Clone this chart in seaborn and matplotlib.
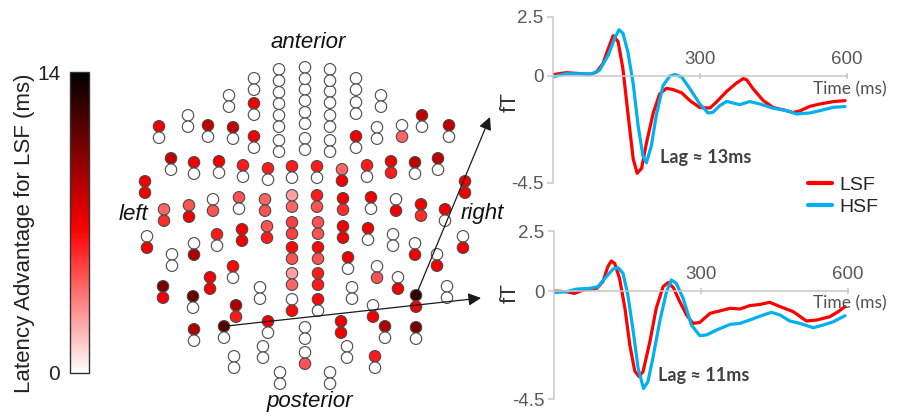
import numpy as np
import pandas as pd
import matplotlib
matplotlib.use("Agg")
import matplotlib.pyplot as plt
import seaborn as sns
from matplotlib.colors import LinearSegmentedColormap, Normalize
from matplotlib.cm import ScalarMappable
from matplotlib.lines import Line2D

# ---------------- data ----------------
# sensor-pair positions (layout coordinates) and latency advantage (ms) of the two gradiometers
sensor_x = [254, 229, 254, 279, 279, 279, 279, 305, 305, 305, 305, 330, 330, 330, 330, 356, 356, 356, 381, 377, 402, 422, 449, 254, 233, 208, 188, 159,
            171, 194, 219, 243, 268, 292, 317, 342, 367, 391, 415, 438, 145, 465,
            164, 189, 213, 239, 265, 292, 317, 343, 371, 396, 421, 445,
            147, 172, 194, 217, 242, 267, 292, 318, 343, 368, 393, 415, 437, 463,
            292, 318, 233, 348, 377, 260, 210, 163, 193, 292, 318, 352, 398, 416, 447, 236, 373, 292, 318,
            194, 224, 268, 305, 341, 385, 416, 263, 347, 234, 305, 375, 280, 330]
sensor_y = [84, 101, 109, 75, 98, 121, 146, 73, 95, 118, 144, 75, 97, 121, 146, 84, 108, 142, 101, 133, 131, 121, 131, 142, 133, 131, 121, 132,
            164, 168, 167, 171, 174, 172, 172, 175, 171, 167, 168, 164, 187, 187,
            215, 211, 205, 203, 205, 201, 201, 204, 203, 205, 210, 215,
            242, 260, 249, 240, 235, 232, 228, 228, 232, 234, 240, 249, 260, 242,
            253, 253, 272, 263, 272, 293, 283, 292, 302, 279, 279, 293, 283, 301, 292, 311, 311, 305, 305,
            335, 332, 327, 333, 327, 332, 333, 352, 352, 362, 358, 362, 378, 378]
latency_upper = [0, 0, 7, 0, 0, 0, 0, 0, 0, 0, 0, 0, 0, 0, 0, 0, 0, 7, 0, 0, 0, 8.5, 8.5, 7, 8.5, 8.5, 0, 7,
                 8.5, 7, 7, 6, 6, 6, 6, 4, 6, 7, 8.5, 8.5, 7, 7,
                 4, 4.5, 0, 4.5, 4, 2.5, 6, 7, 7, 0, 7, 7,
                 0, 0, 0, 6, 7, 4.5, 5, 4.5, 7, 7, 0, 0, 0, 0,
                 6.5, 6.5, 6.5, 7, 0, 0, 7, 10.5, 11, 2.5, 6, 0, 0, 12.5, 0, 9, 0, 0, 6.5,
                 9, 11.5, 7, 0, 7, 9, 10.5, 0, 0, 0, 0, 6, 0, 0]
latency_lower = [0, 0, 0, 0, 0, 0, 0, 0, 0, 0, 0, 0, 0, 0, 0, 0, 0, 0, 0, 0, 4, 0, 0, 0, 0, 0, 0, 0,
                 0, 0, 0, 0, 0, 0, 0, 7, 0, 6, 0, 0, 7, 7,
                 5.5, 7, 4.5, 0, 4.5, 4, 4.5, 5.5, 0, 7, 5.5, 0,
                 7, 0, 9, 0, 7, 6, 5, 4.5, 7, 0, 0, 7, 7, 7,
                 4.5, 4.5, 0, 0, 4.5, 0, 7, 7, 0, 4, 6, 0, 7, 7, 0, 6, 7, 6.5, 0,
                 0, 0, 0, 0, 7, 0, 0, 0, 0, 0, 4.5, 0, 0, 0]

# time courses (ms, fT)
t_lsf_1 = [0, 27, 55, 75, 89, 102, 113, 123, 133, 143, 153, 164, 172, 181, 191, 205, 218, 232, 245, 263,
           280, 300, 321, 334, 355, 375, 389, 396, 409, 430, 450, 471, 491, 505, 525, 546, 573, 597]
v_lsf_1 = [0.06, 0.14, 0.10, 0.06, 0.17, 0.52, 1.16, 1.70, 1.45, 0.30, -1.55, -3.50, -4.10, -3.90, -2.83, -1.55, -0.76, -0.52, -0.57, -0.71,
           -1.04, -1.33, -1.35, -1.10, -0.65, -0.30, -0.11, -0.16, -0.54, -1.04, -1.33, -1.43, -1.54, -1.47, -1.28, -1.18, -1.08, -1.04]
t_hsf_1 = [0, 27, 55, 82, 95, 113, 126, 135, 143, 153, 164, 174, 184, 191, 201, 211, 225, 239, 249, 263,
           280, 300, 317, 327, 341, 355, 368, 382, 402, 423, 450, 477, 498, 525, 546, 573, 597]
v_hsf_1 = [-0.04, 0.10, 0.09, 0.10, 0.24, 0.88, 1.59, 1.95, 1.80, 1.02, -0.33, -2.10, -3.38, -3.66, -2.95, -1.68, -0.40, 0.0, 0.06, -0.04,
           -0.54, -1.18, -1.56, -1.53, -1.25, -1.07, -1.14, -1.21, -1.08, -1.18, -1.36, -1.46, -1.60, -1.56, -1.46, -1.32, -1.29]
t_lsf_2 = [0, 25, 42, 59, 87, 100, 110, 117, 124, 134, 145, 155, 165, 174, 182, 196, 209, 223, 233, 244,
           257, 271, 284, 298, 319, 339, 360, 380, 400, 421, 441, 462, 489, 516, 537, 564, 581, 595]
v_lsf_2 = [0, -0.03, -0.10, 0.04, 0.11, 0.39, 1.01, 1.25, 1.15, 0.53, -0.72, -2.25, -3.33, -3.57, -3.36, -2.11, -0.72, 0.18, 0.35, 0.14,
           -0.44, -1.0, -1.35, -1.31, -0.93, -0.83, -0.72, -0.75, -0.61, -0.56, -0.47, -0.65, -0.86, -1.25, -1.21, -1.07, -0.86, -0.65]
t_hsf_2 = [0, 25, 46, 73, 90, 107, 121, 131, 141, 151, 162, 172, 183, 192, 202, 216, 230, 240, 250, 264,
           281, 298, 312, 332, 360, 380, 400, 428, 445, 462, 482, 503, 530, 550, 571, 595]
v_hsf_2 = [-0.06, -0.03, 0.08, 0.11, 0.18, 0.60, 0.92, 0.97, 0.74, -0.17, -1.69, -3.22, -4.06, -3.78, -2.81, -1.28, -0.03, 0.46, 0.32, -0.31,
           -1.42, -1.86, -1.83, -1.63, -1.39, -1.35, -1.21, -1.0, -0.89, -1.0, -1.25, -1.35, -1.53, -1.42, -1.28, -1.03]

bands = ["LSF", "HSF"]
lag_labels = ["Lag \u2248 13ms", "Lag \u2248 11ms"]
y_ticks = [-4.5, 0, 2.5]
y_ticklabels = ["-4.5", "0", "2.5"]
x_ticks = [300, 600]
cbar_range = (0, 14)

# ---------------- style ----------------
sns.set_theme(style="white")
plt.rcParams["font.family"] = ["Liberation Sans", "DejaVu Sans"]

RED = "#ff0000"
BLUE = "#00b0f0"
GREY_AX = "#c8c8c8"
GREY_TXT = "#595959"
PAIR_OFFSET = 5.7

W, H = 898, 416
fig = plt.figure(figsize=(W / 100, H / 100), dpi=100)

cmap = LinearSegmentedColormap.from_list("wrk", [(0, "white"), (0.475, "#ff0000"), (1, "black")])
norm = Normalize(*cbar_range)

# ---------------- sensor layout ----------------
ax_s = fig.add_axes([100 / W, 0, 410 / W, 1])
ax_s.set_xlim(100, 510)
ax_s.set_ylim(H, 0)
ax_s.set_axis_off()

sx = np.array(sensor_x, float)
sy = np.array(sensor_y, float)
sensors = pd.DataFrame({
    "x": np.concatenate([sx, sx]),
    "y": np.concatenate([sy - PAIR_OFFSET, sy + PAIR_OFFSET]),
    "latency": np.concatenate([latency_upper, latency_lower]),
})
sns.scatterplot(data=sensors, x="x", y="y", hue="latency", palette=cmap, hue_norm=norm,
                s=68, edgecolor="#4a4a4a", linewidth=0.8, legend=False, ax=ax_s, zorder=3)
ax_s.set_xlabel("")
ax_s.set_ylabel("")

for txt, x, y in [("anterior", 308, 42), ("posterior", 310, 402), ("left", 133, 215), ("right", 482, 213)]:
    ax_s.text(x, y, txt, fontsize=16, style="italic", ha="center", va="center", color="#111111")

arrow_kw = dict(arrowstyle="-|>", color="#1a1a1a", lw=0.9, mutation_scale=19, shrinkA=0, shrinkB=0)
i1, i2 = 88, 81
ax_s.annotate("", xy=(481, 298), xytext=(sx[i1], sy[i1] - PAIR_OFFSET), arrowprops=arrow_kw, zorder=4)
ax_s.annotate("", xy=(490, 117), xytext=(sx[i2], sy[i2] - PAIR_OFFSET), arrowprops=arrow_kw, zorder=4)

# ---------------- colorbar ----------------
cax = fig.add_axes([70 / W, 1 - 373 / H, 19 / W, 301 / H])
cb = fig.colorbar(ScalarMappable(norm=norm, cmap=cmap), cax=cax)
cb.outline.set_edgecolor("#333333")
cb.outline.set_linewidth(1.0)
cax.yaxis.set_ticks_position("left")
cax.set_yticks([0, 14])
cax.set_yticklabels(["0", "14"])
cax.set_yticks(np.arange(1, 14), minor=True)
cax.tick_params(axis="y", which="major", length=0, pad=7, labelsize=15, labelcolor="#222222")
cax.tick_params(axis="y", which="minor", left=False, right=True, direction="in", length=4, width=0.8, color="#333333")
fig.text(25 / W, 1 - 233 / H, "Latency Advantage for LSF (ms)", rotation=90, ha="center", va="center",
         fontsize=16, color="#222222")

# ---------------- time courses ----------------
def panel(rect, t_l, v_l, t_h, v_h, lag, lag_xy, time_xy, ylab_xy):
    ax = fig.add_axes(rect)
    df = pd.concat([
        pd.DataFrame({"time": t_l, "fT": v_l, "band": "LSF"}),
        pd.DataFrame({"time": t_h, "fT": v_h, "band": "HSF"}),
    ])
    sns.lineplot(data=df, x="time", y="fT", hue="band", hue_order=bands,
                 palette={"LSF": RED, "HSF": BLUE}, linewidth=2.3, estimator=None, sort=False,
                 legend=False, ax=ax, solid_joinstyle="round", solid_capstyle="round")
    ax.set_xlim(0, 600)
    ax.set_ylim(-4.5, 2.5)
    for side in ["right", "bottom"]:
        ax.spines[side].set_visible(False)
    ax.spines["top"].set_position(("data", 0))
    ax.spines["top"].set_bounds(0, 600)
    for side in ["top", "left"]:
        ax.spines[side].set_color(GREY_AX)
        ax.spines[side].set_linewidth(1.1)
    ax.xaxis.set_ticks_position("top")
    ax.set_xticks(x_ticks)
    ax.set_yticks(y_ticks)
    ax.set_yticklabels(y_ticklabels)
    ax.tick_params(axis="x", top=True, bottom=False, labeltop=True, labelbottom=False,
                   direction="inout", length=5, width=1.1, color=GREY_AX, labelcolor=GREY_TXT,
                   labelsize=13.5, pad=3)
    ax.tick_params(axis="y", left=True, direction="out", length=4, width=1.1, color=GREY_AX,
                   labelcolor=GREY_TXT, labelsize=13.5, pad=3)
    ax.set_xlabel("")
    ax.set_ylabel("fT", fontsize=16, color="#333333")
    ax.yaxis.set_label_coords(*ylab_xy)
    ax.patch.set_alpha(0)
    ax.text(lag_xy[0], lag_xy[1], lag, fontsize=13, fontweight="bold", color="#404040",
            ha="left", va="center", family=["Lato", "DejaVu Sans"])
    ax.text(time_xy[0], time_xy[1], "Time (ms)", fontsize=12.5, color="#505050",
            ha="center", va="center", family=["Lato", "DejaVu Sans"])
    return ax

ax1 = panel([553 / W, 1 - 182.7 / H, 293.5 / W, 166 / H], t_lsf_1, v_lsf_1, t_hsf_1, v_hsf_1,
            lag_labels[0], (219, -3.45), (607, -0.55), (-0.11, 0.486))
ax2 = panel([554 / W, 1 - 399 / H, 293.5 / W, 168 / H], t_lsf_2, v_lsf_2, t_hsf_2, v_hsf_2,
            lag_labels[1], (213, -3.5), (605, -0.51), (-0.114, 0.631))

handles = [Line2D([0], [0], color=RED, lw=3), Line2D([0], [0], color=BLUE, lw=3)]
fig.legend(handles, bands, loc="upper left", bbox_to_anchor=(808 / W, 1 - 176 / H), frameon=False,
           fontsize=14, handlelength=1.25, handletextpad=0.35, labelspacing=0.22,
           borderpad=0, borderaxespad=0)

fig.savefig("out.png", dpi=100)
